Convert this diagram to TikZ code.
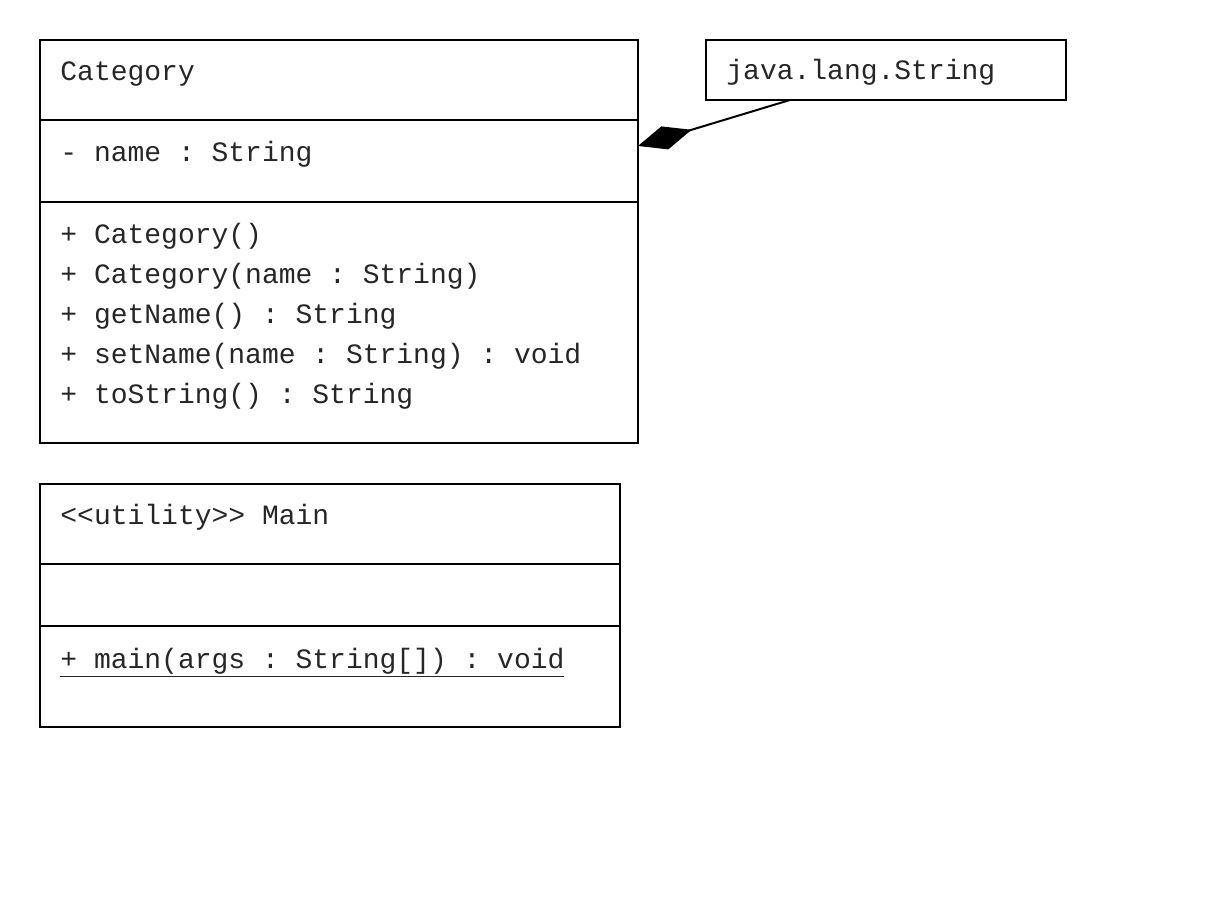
\documentclass[tikz,border=0pt]{standalone}
\usepackage{fontspec}
\newfontfamily\umlfont{Liberation Mono}
\usetikzlibrary{positioning,arrows.meta}

\begin{document}
\frenchspacing
\begin{tikzpicture}[
    x=0.5pt, y=-0.5pt,
    every node/.style={font=\umlfont\fontsize{14}{16}\selectfont, text=black!85},
    classbox/.style={draw, line width=1pt, anchor=north west, inner sep=0pt, outer sep=0pt},
    member/.style={anchor=base west, inner sep=0pt},
    sep/.style={line width=1pt},
    comp/.style={line width=1pt, -{Diamond[length=28pt, width=12pt]}}
]
\useasboundingbox (0,0) rectangle (1220,908);

% Category
\node[classbox, minimum width=299pt, minimum height=201.5pt] (cat) at (40,40) {};
\draw[sep] ([yshift=-40pt]cat.north west) -- ([yshift=-40pt]cat.north east);
\draw[sep] ([yshift=-81pt]cat.north west) -- ([yshift=-81pt]cat.north east);
\node[member] (catname) at (60,81) {Category};
\node[member] (catattr) at (60,162) {- name : String};
\node[member] (m1) at (60,244) {+ Category()};
\node[member] (m2) at (60,284) {+ Category(name : String)};
\node[member] (m3) at (60,324) {+ getName() : String};
\node[member] (m4) at (60,364) {+ setName(name : String) : void};
\node[member] (m5) at (60,404) {+ toString() : String};

% java.lang.String
\node[classbox, minimum width=180pt, minimum height=30pt] (str) at (706,40) {};
\node[member] (strname) at (726,80) {java.lang.String};

% Main
\node[classbox, minimum width=290pt, minimum height=121.5pt] (main) at (40,484) {};
\draw[sep] ([yshift=-40pt]main.north west) -- ([yshift=-40pt]main.north east);
\draw[sep] ([yshift=-71pt]main.north west) -- ([yshift=-71pt]main.north east);
\node[member] (mainname) at (60,524) {<<utility>> Main};
\node[member] (mainop) at (60,668) {\underline{+ main(args : String[]) : void}};

% composition
\draw[comp] ([xshift=42pt]str.south west) -- ([yshift=-53pt]cat.north east);
\end{tikzpicture}
\end{document}
